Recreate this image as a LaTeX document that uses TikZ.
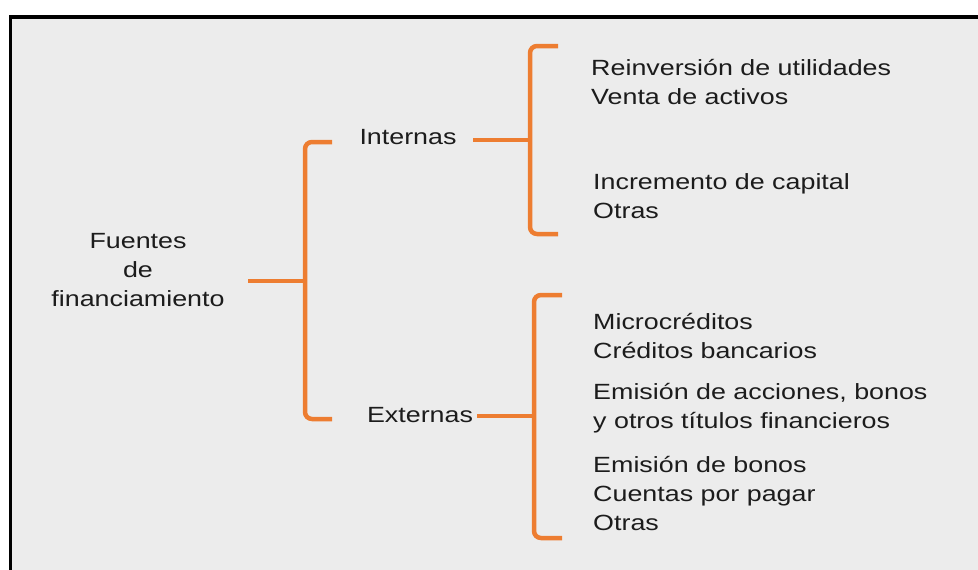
\documentclass[tikz,border=0pt]{standalone}
\usepackage{fontspec}
\setmainfont{Liberation Sans}
\usepackage{tikz}
\definecolor{braceorange}{HTML}{ED7D31}
\definecolor{panelgray}{HTML}{ECECEC}
\definecolor{inkgray}{HTML}{1C1C1C}
\tikzstyle{label} = [text=inkgray, inner sep=0pt, xscale=1.22, font=\fontsize{22}{29}\selectfont]
\tikzstyle{leaf} = [label, anchor=west, align=left]
\tikzstyle{head} = [label, align=center]
\tikzstyle{brace} = [draw=braceorange, line width=4.5pt, rounded corners=7pt]
\tikzstyle{stub} = [draw=braceorange, line width=4.5pt]

\begin{document}
\begin{tikzpicture}[x=1pt, y=-1pt]
      \useasboundingbox (0,0) rectangle (978,570);
      % Panel
      \fill [white] (0,0) rectangle (978,570);
      \fill [panelgray] (10.5,17) rectangle (978,570);
      \draw [line width=3.5pt] (10.5,570) -- (10.5,17) -- (978,17);

      % Place nodes
      \node [head] (fuentes) at (138,270) {Fuentes\\de\\financiamiento};
      \node [head] (internas) at (408,137) {Internas};
      \node [head] (externas) at (420,415) {Externas};
      \node [leaf] (reinv) at (591,82) {Reinversión de utilidades\\Venta de activos};
      \node [leaf] (incr) at (593,196) {Incremento de capital\\Otras};
      \node [leaf] (micro) at (593,336) {Microcréditos\\Créditos bancarios};
      \node [leaf] (acciones) at (593,408) {Emisión de acciones, bonos\\y otros títulos financieros};
      \node [leaf] (bonos) at (593,494) {Emisión de bonos\\Cuentas por pagar\\Otras};

      % Brace points
      \coordinate (fb-in) at (248,281);
      \coordinate (fb-tip) at (305,281);
      \coordinate (fb-top) at (332,142);
      \coordinate (fb-bot) at (332,419);
      \coordinate (ib-in) at (473,140);
      \coordinate (ib-tip) at (530,140);
      \coordinate (ib-top) at (558,46);
      \coordinate (ib-bot) at (558,234);
      \coordinate (eb-in) at (477,416);
      \coordinate (eb-tip) at (534,416);
      \coordinate (eb-top) at (562,295);
      \coordinate (eb-bot) at (562,538);

      % Draw edges
      \path [stub] (fb-in) -- (fb-tip);
      \path [brace] (fb-top) -| (fb-tip) |- (fb-bot);
      \path [stub] (ib-in) -- (ib-tip);
      \path [brace] (ib-top) -| (ib-tip) |- (ib-bot);
      \path [stub] (eb-in) -- (eb-tip);
      \path [brace] (eb-top) -| (eb-tip) |- (eb-bot);
\end{tikzpicture}
\end{document}
